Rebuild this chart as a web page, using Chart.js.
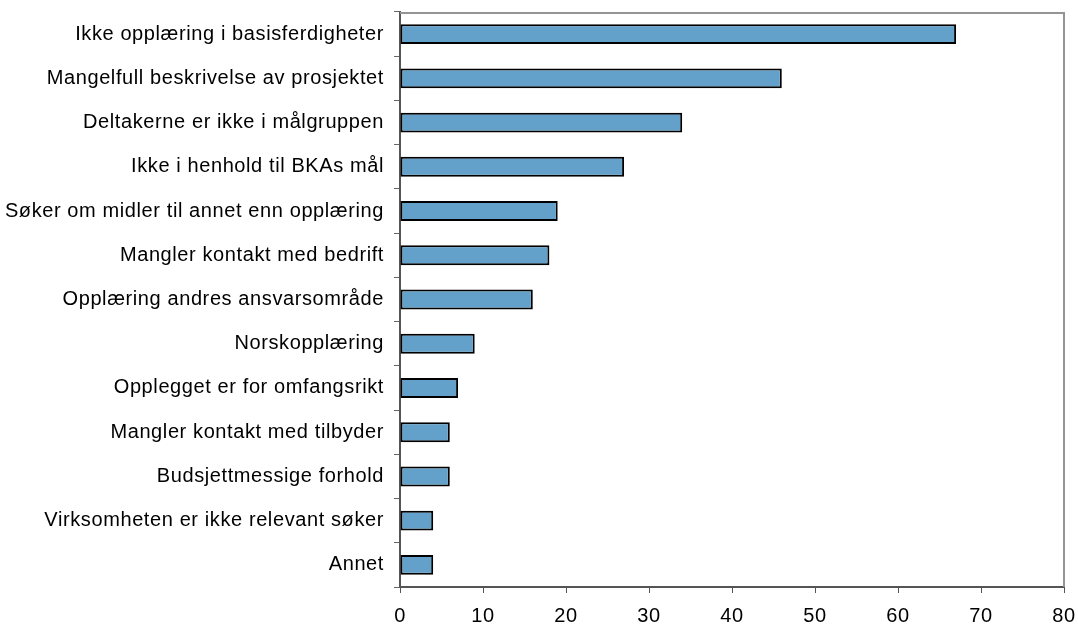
<!DOCTYPE html>
<html>
<head>
<meta charset="utf-8">
<script src="https://cdn.jsdelivr.net/npm/chart.js@4.4.1/dist/chart.umd.min.js"></script>
<style>
  html, body { margin: 0; padding: 0; background: #fff; }
  #wrap { width: 1078px; height: 626px; }
</style>
</head>
<body>
<div id="wrap"><canvas id="barChart" width="1078" height="626"></canvas></div>
<script>
const categories = [
    'Ikke opplæring i basisferdigheter',
    'Mangelfull beskrivelse av prosjektet',
    'Deltakerne er ikke i målgruppen',
    'Ikke i henhold til BKAs mål',
    'Søker om midler til annet enn opplæring',
    'Mangler kontakt med bedrift',
    'Opplæring andres ansvarsområde',
    'Norskopplæring',
    'Opplegget er for omfangsrikt',
    'Mangler kontakt med tilbyder',
    'Budsjettmessige forhold',
    'Virksomheten er ikke relevant søker',
    'Annet'
];
const counts = [67, 46, 34, 27, 19, 18, 16, 9, 7, 6, 6, 4, 4];
const xTicks = [0, 10, 20, 30, 40, 50, 60, 70, 80];

// top and right frame of the plot area + wider letter spacing like the original
const frame = {
    id: 'frame',
    beforeDraw(chart) {
        chart.ctx.letterSpacing = '0.6px';
    },
    beforeDatasetsDraw(chart) {
        const a = chart.chartArea;
        const ctx = chart.ctx;
        ctx.save();
        ctx.strokeStyle = '#949494';
        ctx.lineWidth = 2;
        ctx.beginPath();
        ctx.moveTo(a.left, a.top + 1);
        ctx.lineTo(a.right, a.top + 1);
        ctx.lineTo(a.right, a.bottom);
        ctx.stroke();
        ctx.restore();
    }
};

new Chart(document.getElementById('barChart'), {
    type: 'bar',
    data: {
        labels: categories,
        datasets: [{
            data: counts,
            backgroundColor: '#63a1ca',
            borderColor: '#000000',
            borderWidth: 2,
            borderSkipped: false,
            categoryPercentage: 1,
            barPercentage: 0.45
        }]
    },
    options: {
        indexAxis: 'y',
        responsive: false,
        animation: false,
        layout: { padding: { top: 12, right: 14, left: 0, bottom: 0 } },
        plugins: { legend: { display: false }, tooltip: { enabled: false } },
        scales: {
            x: {
                min: 0,
                max: 80,
                afterBuildTicks(scale) { scale.ticks = xTicks.map(v => ({ value: v })); },
                afterFit(scale) {
                    scale.height = 39;
                    scale.paddingLeft = 0;
                    scale.paddingRight = 0;
                },
                border: { color: '#555555', width: 2 },
                grid: { drawOnChartArea: false, tickLength: 6, color: '#555555', tickWidth: 1 },
                ticks: {
                    color: '#000',
                    padding: 11,
                    maxRotation: 0,
                    font: { family: 'Liberation Sans, Arial, sans-serif', size: 20 }
                }
            },
            y: {
                afterFit(scale) {
                    scale.width = 400;
                    scale.paddingTop = 0;
                    scale.paddingBottom = 0;
                },
                border: { color: '#555555', width: 2 },
                grid: { drawOnChartArea: false, tickLength: 6, color: '#666666', offset: true },
                ticks: {
                    color: '#000',
                    padding: 10,
                    autoSkip: false,
                    font: { family: 'Liberation Sans, Arial, sans-serif', size: 20 }
                }
            }
        }
    },
    plugins: [frame]
});
</script>
</body>
</html>
